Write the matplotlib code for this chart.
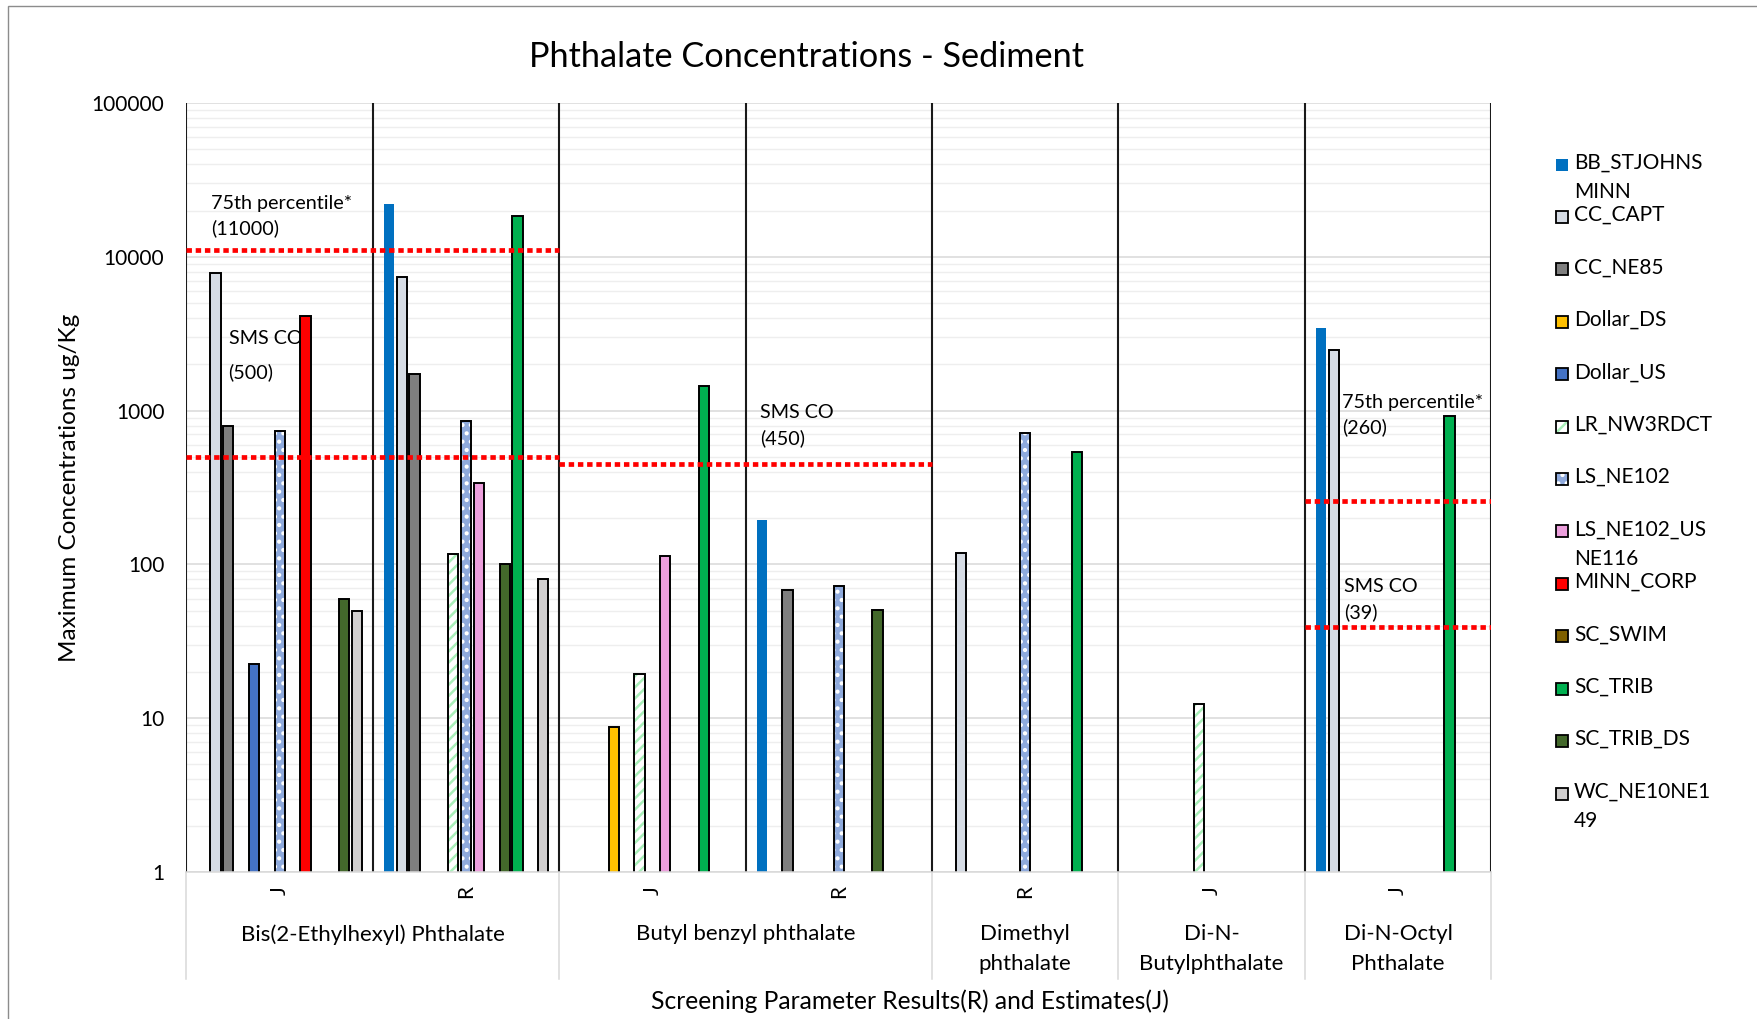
import numpy as np
import matplotlib
import matplotlib.pyplot as plt
import matplotlib.transforms as mtransforms
from matplotlib.patches import Rectangle

matplotlib.use('Agg')
plt.ioff()

plt.rcParams['font.family'] = ['Lato', 'DejaVu Sans']
plt.rcParams['hatch.linewidth'] = 1.8

nan = np.nan

# two-level category axis: result flag per column, compound per group of columns
flags = ['J', 'R', 'J', 'R', 'R', 'J', 'J']
compounds = ['Bis(2-Ethylhexyl) Phthalate', 'Butyl benzyl phthalate',
             'Dimethyl\nphthalate', 'Di-N-\nButylphthalate', 'Di-N-Octyl\nPhthalate']
compound_spans = [(0, 1), (2, 3), (4, 4), (5, 5), (6, 6)]

sites = ['BB_STJOHNS\nMINN', 'CC_CAPT', 'CC_NE85', 'Dollar_DS', 'Dollar_US',
         'LR_NW3RDCT', 'LS_NE102', 'LS_NE102_US\nNE116', 'MINN_CORP', 'SC_SWIM',
         'SC_TRIB', 'SC_TRIB_DS', 'WC_NE10NE1\n49']

# maximum concentrations (ug/Kg) per column
bb_stjohnsminn = [nan, 22000, nan, 195, nan, nan, 3450]
cc_capt = [7900, 7400, nan, nan, 118, nan, 2460]
cc_ne85 = [800, 1720, nan, 68, nan, nan, nan]
dollar_ds = [nan, nan, 8.8, nan, nan, nan, nan]
dollar_us = [22.6, nan, nan, nan, nan, nan, nan]
lr_nw3rdct = [nan, 117, 19.4, nan, nan, 12.4, nan]
ls_ne102 = [736, 850, nan, 72, 720, nan, nan]
ls_ne102_us = [nan, 340, 113, nan, nan, nan, nan]
minn_corp = [4100, nan, nan, nan, nan, nan, nan]
sc_swim = [nan, 101, nan, 50.4, nan, nan, nan]
sc_trib = [nan, 18500, 1450, nan, 542, nan, 918]
sc_trib_ds = [60, nan, nan, nan, nan, nan, nan]
wc_ne10ne149 = [50, 80, nan, nan, nan, nan, nan]

series = [bb_stjohnsminn, cc_capt, cc_ne85, dollar_ds, dollar_us, lr_nw3rdct,
          ls_ne102, ls_ne102_us, minn_corp, sc_swim, sc_trib, sc_trib_ds, wc_ne10ne149]

# screening levels: (value, first column, last column)
screening = [(11000, 0, 1), (500, 0, 1), (450, 2, 3), (260, 6, 6), (39, 6, 6)]
screening_text = [('75th percentile*\n(11000)', -0.37, 18350, 1.5),
                  ('SMS CO\n(500)', -0.274, 2280, 2.05),
                  ('SMS CO\n(450)', 2.578, 800, 1.5),
                  ('75th percentile*\n(260)', 5.699, 940, 1.5),
                  ('SMS CO\n(39)', 5.711, 59, 1.5)]

# fill, hatch, hatch colour, edge colour
styles = [('#0070C0', None, None, 'none'),
          ('#D6DCE5', None, None, 'black'),
          ('#7F7F7F', None, None, 'black'),
          ('#FFC000', None, None, 'black'),
          ('#4472C4', None, None, 'black'),
          ('white', '///', '#A9EFB9', 'black'),
          ('#8FAADC', '..', 'white', 'black'),
          ('#EC9FDC', None, None, 'black'),
          ('#FF0000', None, None, 'black'),
          ('#43682B', None, None, 'black'),
          ('#00B050', None, None, 'black'),
          ('#43682B', None, None, 'black'),
          ('#D0CECE', None, None, 'black')]
swatch_fill = {9: '#7F6000'}

W, H = 1758, 1019
fig = plt.figure(figsize=(W / 100, H / 100), dpi=100)
ax = fig.add_axes([186.5 / W, 1 - 872 / H, (1491.2 - 186.5) / W, (872 - 103) / H])


def fig_xy(px, py):
    return px / W, 1 - py / H


slot = 0.069
x = np.arange(len(flags))
for k, (vals, (fc, hatch, hc, ec)) in enumerate(zip(series, styles)):
    xs = x + (k - 6) * slot
    vals = np.array(vals)
    if hatch:
        ax.bar(xs, vals, width=0.8 * slot, color=fc, edgecolor=hc, hatch=hatch,
               linewidth=0, zorder=2)
        ax.bar(xs, vals, width=0.8 * slot, fill=False, edgecolor=ec,
               linewidth=1.4, zorder=2.1)
    else:
        ax.bar(xs, vals, width=0.8 * slot, color=fc, edgecolor=ec,
               linewidth=0 if ec == 'none' else 1.4, zorder=2)

ax.set_yscale('log')
ax.set_ylim(1, 100000)
ax.set_xlim(-0.5, len(flags) - 0.5)
ax.set_yticks([1, 10, 100, 1000, 10000, 100000])
ax.set_yticklabels(['1', '10', '100', '1000', '10000', '100000'])
ax.tick_params(axis='y', which='both', length=0, pad=16, labelsize=15)
ax.set_xticks([])
ax.grid(axis='y', which='major', color='#D9D9D9', linewidth=1.1, zorder=0)
ax.grid(axis='y', which='minor', color='#EEEEEE', linewidth=1.0, zorder=0)
ax.set_axisbelow(True)
for side in ['top', 'right', 'left']:
    ax.spines[side].set_visible(False)
ax.spines['bottom'].set_color('#D9D9D9')
ax.spines['bottom'].set_linewidth(1.1)

for b in np.arange(-0.5, len(flags), 1.0):
    ax.axvline(b, color='#1A1A1A', linewidth=1.5, zorder=2.5)

for val, c0, c1 in screening:
    ax.plot([c0 - 0.5, c1 + 0.5], [val, val], color='#FF0000', linewidth=3.4,
            linestyle=(0, (1.15, 0.8)), zorder=3, solid_capstyle='butt')

for txt, tx, ty, ls in screening_text:
    ax.text(tx, ty, txt, fontsize=14.2, ha='left', va='center', linespacing=ls, zorder=1)

# category labels below the axis
trans = mtransforms.blended_transform_factory(ax.transData, ax.transAxes)
axh = 872 - 103
for i, f in enumerate(flags):
    ax.text(i, (872 - 891) / axh, f, rotation=90, ha='center', va='center',
            fontsize=15, transform=trans)
for name, (c0, c1) in zip(compounds, compound_spans):
    ax.text((c0 + c1) / 2, (872 - 924) / axh, name, ha='center', va='top',
            fontsize=16, linespacing=1.63, transform=trans)
for b in [-0.5, 1.5, 3.5, 4.5, 5.5, 6.5]:
    ax.plot([b, b], [0, (872 - 979) / axh], color='#D9D9D9', linewidth=1.1,
            transform=trans, clip_on=False)

fig.text(*fig_xy(807, 57), 'Phthalate Concentrations - Sediment', fontsize=24.7,
         ha='center', va='center')
fig.text(*fig_xy(69.5, 488), 'Maximum Concentrations ug/Kg', fontsize=17.5,
         rotation=90, ha='center', va='center')
fig.text(*fig_xy(910, 1001), 'Screening Parameter Results(R) and Estimates(J)',
         fontsize=17.7, ha='center', va='center')

# legend with evenly spaced entries
for k, (name, (fc, hatch, hc, ec)) in enumerate(zip(sites, styles)):
    cy = 164.5 + k * 52.42
    sx, sy = fig_xy(1556, cy + 6)
    fill = swatch_fill.get(k, fc)
    if hatch:
        fig.add_artist(Rectangle((sx, sy), 12 / W, 12 / H, transform=fig.transFigure,
                                 facecolor=fill, edgecolor=hc, hatch=hatch, linewidth=0))
        fig.add_artist(Rectangle((sx, sy), 12 / W, 12 / H, transform=fig.transFigure,
                                 fill=False, edgecolor=ec, linewidth=1.3))
    else:
        fig.add_artist(Rectangle((sx, sy), 12 / W, 12 / H, transform=fig.transFigure,
                                 facecolor=fill, edgecolor=ec,
                                 linewidth=0 if ec == 'none' else 1.3))
    tx, ty = fig_xy(1574, cy - 12)
    fig.text(tx, ty, name, fontsize=15, ha='left', va='top', linespacing=1.6)

# chart area border
bx, by = fig_xy(8, 6)
fig.add_artist(Rectangle((bx, -0.1), 2, by + 0.1, transform=fig.transFigure,
                         fill=False, edgecolor='#8C8C8C', linewidth=1.0))

fig.savefig('out.png', dpi=100)
